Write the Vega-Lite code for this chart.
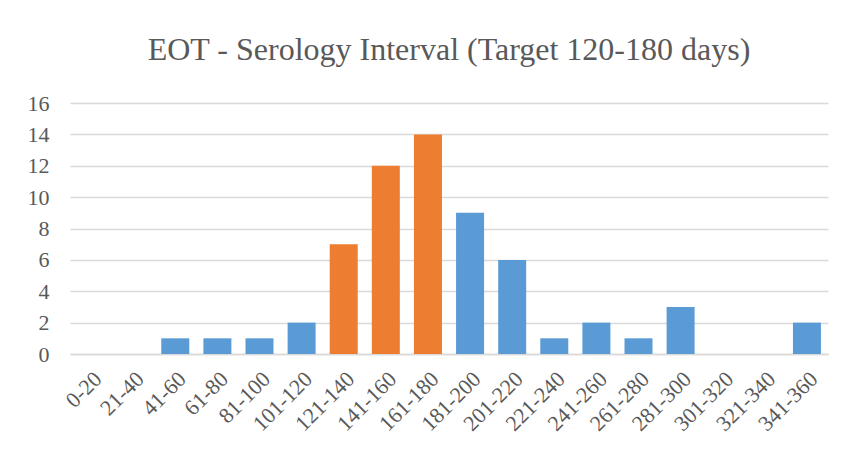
{
  "$schema": "https://vega.github.io/schema/vega-lite/v6.json",
  "width": 758,
  "height": 251,
  "autosize": {"type": "none"},
  "padding": {"left": 70, "top": 103, "right": 16, "bottom": 96},
  "background": "white",
  "title": {
    "text": "EOT - Serology Interval (Target 120-180 days)",
    "anchor": "middle",
    "offset": 25
  },
  "config": {
    "font": "Liberation Serif",
    "view": {"stroke": null},
    "title": {"font": "Liberation Serif", "fontSize": 32, "fontWeight": "normal", "color": "#595959"},
    "axis": {
      "labelFont": "Liberation Serif",
      "labelFontSize": 22,
      "labelColor": "#595959",
      "ticks": false,
      "title": null
    }
  },
  "data": {
    "values": [
      {"bin": "0-20", "count": 0, "target": "no"},
      {"bin": "21-40", "count": 0, "target": "no"},
      {"bin": "41-60", "count": 1, "target": "no"},
      {"bin": "61-80", "count": 1, "target": "no"},
      {"bin": "81-100", "count": 1, "target": "no"},
      {"bin": "101-120", "count": 2, "target": "no"},
      {"bin": "121-140", "count": 7, "target": "yes"},
      {"bin": "141-160", "count": 12, "target": "yes"},
      {"bin": "161-180", "count": 14, "target": "yes"},
      {"bin": "181-200", "count": 9, "target": "no"},
      {"bin": "201-220", "count": 6, "target": "no"},
      {"bin": "221-240", "count": 1, "target": "no"},
      {"bin": "241-260", "count": 2, "target": "no"},
      {"bin": "261-280", "count": 1, "target": "no"},
      {"bin": "281-300", "count": 3, "target": "no"},
      {"bin": "301-320", "count": 0, "target": "no"},
      {"bin": "321-340", "count": 0, "target": "no"},
      {"bin": "341-360", "count": 2, "target": "no"}
    ]
  },
  "mark": {"type": "bar"},
  "encoding": {
    "x": {
      "field": "bin",
      "type": "nominal",
      "sort": null,
      "scale": {"paddingInner": 0.335, "paddingOuter": 0.1675},
      "axis": {
        "title": null,
        "labelAngle": -45,
        "domain": true,
        "domainColor": "#d9d9d9",
        "domainWidth": 1.5,
        "labelPadding": 14,
        "labelLimit": 200
      }
    },
    "y": {
      "field": "count",
      "type": "quantitative",
      "scale": {"domain": [0, 16]},
      "axis": {
        "title": null,
        "values": [0, 2, 4, 6, 8, 10, 12, 14, 16],
        "domain": false,
        "gridColor": "#d9d9d9",
        "gridWidth": 1.5,
        "labelPadding": 21
      }
    },
    "color": {
      "field": "target",
      "type": "nominal",
      "scale": {"domain": ["no", "yes"], "range": ["#5B9BD5", "#ED7D31"]},
      "legend": null
    }
  }
}
